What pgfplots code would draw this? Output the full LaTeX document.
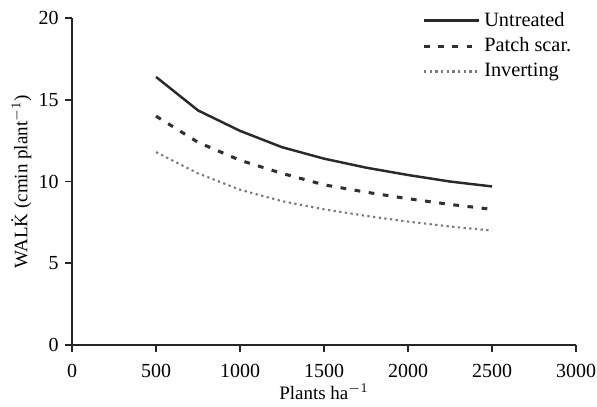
\documentclass[border=0pt]{standalone}
\usepackage{fontspec}
\setmainfont{Liberation Serif}
\usepackage{pgfplots}
\pgfplotsset{compat=1.18}
\definecolor{solidc}{HTML}{2A2A2A}
\definecolor{dashc}{HTML}{303030}
\definecolor{dotc}{HTML}{7A7A7A}
\begin{document}
\begin{tikzpicture}
\useasboundingbox (-37.9pt,-32.1pt) rectangle (276.3pt,181.6pt);
\begin{axis}[
  at={(0,0)}, anchor=origin,
  scale only axis,
  width=265.3pt, height=172.1pt,
  xmin=0, xmax=3000, ymin=0, ymax=20,
  axis lines=left,
  axis line style={line width=1pt, draw=black!85, -},
  xtick={0,500,...,3000},
  ytick={0,5,...,20},
  tick align=outside,
  major tick length=3.5pt,
  tick style={line width=0.9pt, black!85},
  /pgf/number format/assume math mode=true,
  /pgf/number format/1000 sep={},
  tick label style={font=\fontsize{10.5}{12}\selectfont},
  xticklabel style={yshift=-3.2pt},
  xlabel={Plants ha\textsuperscript{$-1$}},
  ylabel={WAL\.{K} (cmin plant\textsuperscript{$-1$})},
  label style={font=\fontsize{10}{12}\selectfont},
  xlabel style={yshift=3.5pt},
  ylabel style={yshift=-3pt},
  legend style={draw=none, fill=none, at={(1.01,1.043)}, anchor=north east,
    font=\fontsize{10.7}{12}\selectfont, row sep=0.6pt,
    /tikz/every even column/.append style={column sep=2pt}},
  legend cell align=left,
  legend image code/.code={\draw[#1] (0pt,0pt) -- (29pt,0pt);},
]
\addplot[solidc, line width=1.3pt] coordinates {
 (500,16.4) (750,14.35) (1000,13.1) (1250,12.1) (1500,11.4) (1750,10.85) (2000,10.4) (2250,10.0) (2500,9.7)};
\addlegendentry{Untreated}
\addplot[dashc, line width=1.6pt, dash pattern=on 3pt off 4.5pt] coordinates {
 (500,14.0) (750,12.4) (1000,11.3) (1250,10.5) (1500,9.8) (1750,9.35) (2000,8.95) (2250,8.6) (2500,8.3)};
\addlegendentry{Patch scar.}
\addplot[dotc, line width=1.1pt, dash pattern=on 1.2pt off 1.8pt] coordinates {
 (500,11.8) (750,10.5) (1000,9.5) (1250,8.8) (1500,8.3) (1750,7.9) (2000,7.55) (2250,7.25) (2500,7.0)};
\addlegendentry{Inverting}
\end{axis}
\end{tikzpicture}
\end{document}
